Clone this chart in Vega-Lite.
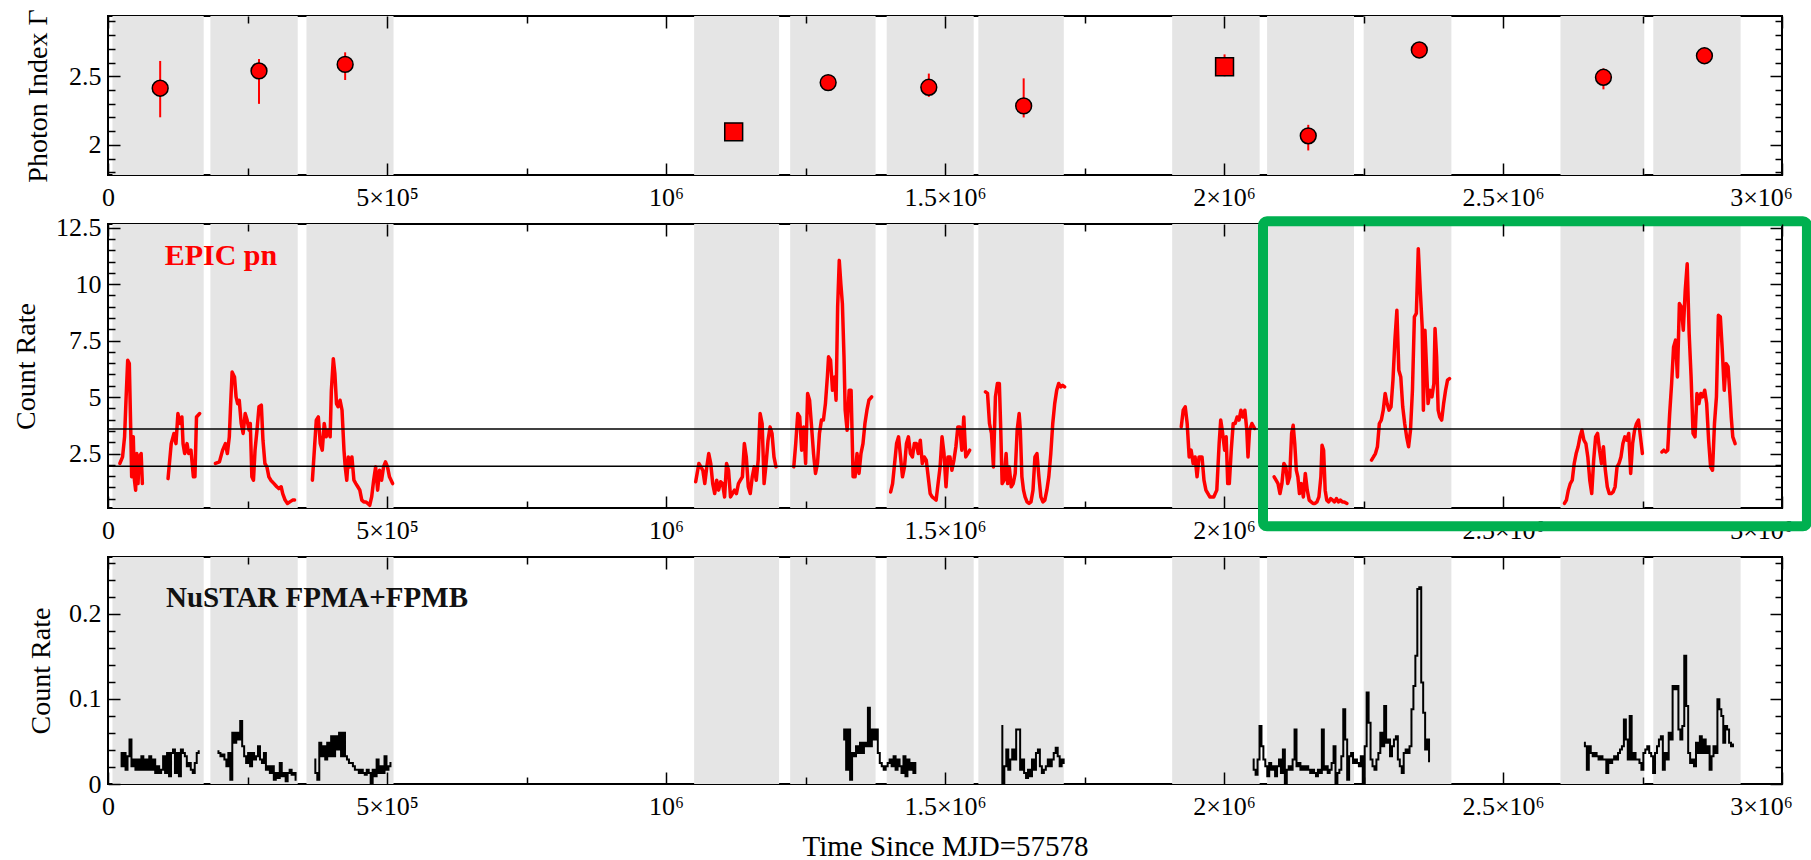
{
  "$schema": "https://vega.github.io/schema/vega-lite/v6.json",
  "background": "white",
  "padding": {"left": 10, "top": 7, "right": 0, "bottom": 0},
  "bounds": "flush",
  "spacing": 49,
  "config": {
    "view": {"stroke": "black", "strokeWidth": 2},
    "axis": {
      "grid": false, "domain": false,
      "labelFont": "Liberation Serif", "labelFontSize": 26, "labelColor": "black",
      "titleFont": "Liberation Serif", "titleFontSize": 28, "titleFontWeight": "normal", "titleColor": "black",
      "tickColor": "black", "tickWidth": 1.5,
      "labelFlush": false, "labelOverlap": false, "labelBound": false
    },
    "text": {"font": "Liberation Serif"}
  },
  "datasets": {
    "bands": [
      {"t0": 8, "t1": 171.5}, {"t0": 183.5, "t1": 340}, {"t0": 355.7, "t1": 511.7},
      {"t0": 1050.4, "t1": 1202.7}, {"t0": 1222.5, "t1": 1375.6}, {"t0": 1395.5, "t1": 1551.4},
      {"t0": 1559.8, "t1": 1712.9}, {"t0": 1907.1, "t1": 2063.9}, {"t0": 2077.2, "t1": 2233},
      {"t0": 2250.3, "t1": 2407.5}, {"t0": 2603, "t1": 2753.2}, {"t0": 2769.3, "t1": 2925.8}
    ],
    "gamma": [
      {"t": 93.5, "g": 2.413, "lo": 2.201, "hi": 2.612, "fit": "joint"},
      {"t": 270.6, "g": 2.539, "lo": 2.299, "hi": 2.626, "fit": "joint"},
      {"t": 425, "g": 2.587, "lo": 2.473, "hi": 2.675, "fit": "joint"},
      {"t": 1121.3, "g": 2.095, "lo": 2.08, "hi": 2.11, "fit": "pn"},
      {"t": 1290.6, "g": 2.454, "lo": 2.43, "hi": 2.48, "fit": "joint"},
      {"t": 1471, "g": 2.42, "lo": 2.35, "hi": 2.52, "fit": "joint"},
      {"t": 1641, "g": 2.284, "lo": 2.2, "hi": 2.485, "fit": "joint"},
      {"t": 2001, "g": 2.57, "lo": 2.5, "hi": 2.66, "fit": "pn"},
      {"t": 2151, "g": 2.066, "lo": 1.959, "hi": 2.146, "fit": "joint"},
      {"t": 2350, "g": 2.692, "lo": 2.67, "hi": 2.715, "fit": "joint"},
      {"t": 2680, "g": 2.493, "lo": 2.405, "hi": 2.558, "fit": "joint"},
      {"t": 2861, "g": 2.65, "lo": 2.63, "hi": 2.67, "fit": "joint"}
    ],
    "levels": [{"level": 3.59}, {"level": 1.94}],
    "box": [{"t0": 2069.9, "t1": 3044.7, "r0": -0.72, "r1": 12.78}],
    "pn": [
      {"seg":"A","t":21.2,"rate":2.06},{"seg":"A","t":26.1,"rate":2.35},{"seg":"A","t":29.7,"rate":3.24},{"seg":"A","t":32.5,"rate":5.01},{"seg":"A","t":35.3,"rate":6.63},{"seg":"A","t":38.2,"rate":6.48},{"seg":"A","t":41.0,"rate":3.24},{"seg":"A","t":42.4,"rate":1.47},{"seg":"A","t":45.3,"rate":3.24},{"seg":"A","t":47.4,"rate":1.32},{"seg":"A","t":49.5,"rate":0.88},{"seg":"A","t":51.6,"rate":2.5},{"seg":"A","t":53.8,"rate":1.17},{"seg":"A","t":55.9,"rate":2.35},{"seg":"A","t":59.4,"rate":2.5},{"seg":"A","t":61.6,"rate":1.17},
      {"seg":"B","t":107.6,"rate":1.39},{"seg":"B","t":113.3,"rate":2.94},{"seg":"B","t":118.2,"rate":3.39},{"seg":"B","t":121.8,"rate":2.94},{"seg":"B","t":125.3,"rate":4.27},{"seg":"B","t":128.9,"rate":3.83},{"seg":"B","t":132.4,"rate":4.12},{"seg":"B","t":134.5,"rate":2.94},{"seg":"B","t":137.4,"rate":2.5},{"seg":"B","t":141.6,"rate":2.94},{"seg":"B","t":144.5,"rate":2.5},{"seg":"B","t":148.7,"rate":2.65},{"seg":"B","t":153,"rate":1.47},{"seg":"B","t":155.8,"rate":1.47},{"seg":"B","t":158.6,"rate":4.12},{"seg":"B","t":164.3,"rate":4.27},
      {"seg":"C","t":192.6,"rate":2.06},{"seg":"C","t":199.7,"rate":2.13},{"seg":"C","t":205.4,"rate":2.65},{"seg":"C","t":210.4,"rate":2.94},{"seg":"C","t":213.9,"rate":2.5},{"seg":"C","t":217.4,"rate":3.24},{"seg":"C","t":219.6,"rate":4.57},{"seg":"C","t":222.4,"rate":6.11},{"seg":"C","t":226.7,"rate":5.89},{"seg":"C","t":229.5,"rate":5.01},{"seg":"C","t":232.3,"rate":4.71},{"seg":"C","t":235.2,"rate":4.86},{"seg":"C","t":238.7,"rate":3.83},{"seg":"C","t":242.2,"rate":3.39},{"seg":"C","t":245.8,"rate":4.27},{"seg":"C","t":249.3,"rate":3.98},{"seg":"C","t":252.9,"rate":3.53},{"seg":"C","t":255,"rate":3.83},{"seg":"C","t":257.8,"rate":1.47},{"seg":"C","t":260.7,"rate":1.32},{"seg":"C","t":263.5,"rate":2.65},{"seg":"C","t":267,"rate":3.53},{"seg":"C","t":270.6,"rate":4.57},{"seg":"C","t":274.8,"rate":4.64},{"seg":"C","t":277.7,"rate":3.09},{"seg":"C","t":281.2,"rate":2.06},{"seg":"C","t":284.8,"rate":1.91},{"seg":"C","t":288.3,"rate":1.47},{"seg":"C","t":291.8,"rate":1.32},{"seg":"C","t":297.5,"rate":1.17},{"seg":"C","t":302.5,"rate":1.03},{"seg":"C","t":306,"rate":0.95},{"seg":"C","t":310.3,"rate":1.03},{"seg":"C","t":313.1,"rate":0.73},{"seg":"C","t":317.4,"rate":0.44},{"seg":"C","t":321.6,"rate":0.29},{"seg":"C","t":325.9,"rate":0.36},{"seg":"C","t":330.8,"rate":0.44},{"seg":"C","t":334.4,"rate":0.44},
      {"seg":"D","t":366.3,"rate":1.32},{"seg":"D","t":369.8,"rate":2.65},{"seg":"D","t":373.3,"rate":3.98},{"seg":"D","t":376.9,"rate":4.12},{"seg":"D","t":380.4,"rate":2.94},{"seg":"D","t":384,"rate":2.65},{"seg":"D","t":387.5,"rate":3.83},{"seg":"D","t":391.1,"rate":3.24},{"seg":"D","t":394.6,"rate":3.53},{"seg":"D","t":398.1,"rate":3.24},{"seg":"D","t":400.3,"rate":5.3},{"seg":"D","t":403.8,"rate":6.7},{"seg":"D","t":406.6,"rate":6.04},{"seg":"D","t":409.5,"rate":4.71},{"seg":"D","t":412.3,"rate":4.57},{"seg":"D","t":415.9,"rate":4.86},{"seg":"D","t":419.4,"rate":4.42},{"seg":"D","t":422.9,"rate":2.65},{"seg":"D","t":425.1,"rate":1.91},{"seg":"D","t":427.9,"rate":1.32},{"seg":"D","t":430.7,"rate":2.35},{"seg":"D","t":433.6,"rate":1.91},{"seg":"D","t":437.1,"rate":2.35},{"seg":"D","t":440.7,"rate":1.32},{"seg":"D","t":444.2,"rate":1.17},{"seg":"D","t":447.7,"rate":1.03},{"seg":"D","t":451.3,"rate":0.88},{"seg":"D","t":454.8,"rate":0.44},{"seg":"D","t":458.4,"rate":0.36},{"seg":"D","t":461.9,"rate":0.36},{"seg":"D","t":465.5,"rate":0.29},{"seg":"D","t":469,"rate":0.21},{"seg":"D","t":472.5,"rate":0.58},{"seg":"D","t":476.1,"rate":1.32},{"seg":"D","t":479.6,"rate":1.91},{"seg":"D","t":483.2,"rate":0.88},{"seg":"D","t":486.7,"rate":1.76},{"seg":"D","t":490.3,"rate":1.32},{"seg":"D","t":493.8,"rate":1.91},{"seg":"D","t":497.3,"rate":2.13},{"seg":"D","t":500.9,"rate":1.91},{"seg":"D","t":504.4,"rate":1.47},{"seg":"D","t":510.1,"rate":1.17},
      {"seg":"E","t":1053.2,"rate":1.25},{"seg":"E","t":1058.9,"rate":2.06},{"seg":"E","t":1062.5,"rate":1.91},{"seg":"E","t":1066,"rate":1.76},{"seg":"E","t":1069.5,"rate":1.17},{"seg":"E","t":1073.1,"rate":1.91},{"seg":"E","t":1076.6,"rate":2.5},{"seg":"E","t":1080.2,"rate":2.06},{"seg":"E","t":1083.7,"rate":1.17},{"seg":"E","t":1087.3,"rate":0.73},{"seg":"E","t":1090.8,"rate":1.32},{"seg":"E","t":1094.3,"rate":0.88},{"seg":"E","t":1097.9,"rate":1.25},{"seg":"E","t":1101.4,"rate":1.17},{"seg":"E","t":1105,"rate":0.58},{"seg":"E","t":1108.5,"rate":2.06},{"seg":"E","t":1112.1,"rate":1.76},{"seg":"E","t":1115.6,"rate":0.58},{"seg":"E","t":1119.1,"rate":0.73},{"seg":"E","t":1122.7,"rate":0.88},{"seg":"E","t":1126.2,"rate":0.73},{"seg":"E","t":1129.8,"rate":1.17},{"seg":"E","t":1133.3,"rate":1.32},{"seg":"E","t":1136.9,"rate":1.47},{"seg":"E","t":1140.4,"rate":2.94},{"seg":"E","t":1143.9,"rate":2.35},{"seg":"E","t":1147.5,"rate":1.03},{"seg":"E","t":1151,"rate":0.73},{"seg":"E","t":1154.6,"rate":1.47},{"seg":"E","t":1158.1,"rate":1.91},{"seg":"E","t":1161.7,"rate":1.32},{"seg":"E","t":1165.2,"rate":2.21},{"seg":"E","t":1168.7,"rate":4.27},{"seg":"E","t":1172.3,"rate":3.83},{"seg":"E","t":1175.8,"rate":1.17},{"seg":"E","t":1179.4,"rate":2.06},{"seg":"E","t":1182.9,"rate":3.09},{"seg":"E","t":1186.5,"rate":3.68},{"seg":"E","t":1190,"rate":3.39},{"seg":"E","t":1193.5,"rate":2.35},{"seg":"E","t":1197.1,"rate":1.91},
      {"seg":"F","t":1229,"rate":1.91},{"seg":"F","t":1232.5,"rate":2.94},{"seg":"F","t":1236.1,"rate":4.27},{"seg":"F","t":1239.6,"rate":4.12},{"seg":"F","t":1243.1,"rate":2.65},{"seg":"F","t":1246.7,"rate":3.68},{"seg":"F","t":1250.2,"rate":2.06},{"seg":"F","t":1253.8,"rate":5.16},{"seg":"F","t":1257.3,"rate":4.86},{"seg":"F","t":1260.9,"rate":3.68},{"seg":"F","t":1264.4,"rate":2.5},{"seg":"F","t":1267.9,"rate":1.62},{"seg":"F","t":1271.5,"rate":2.06},{"seg":"F","t":1275,"rate":3.39},{"seg":"F","t":1278.6,"rate":3.98},{"seg":"F","t":1282.1,"rate":3.98},{"seg":"F","t":1285.7,"rate":4.71},{"seg":"F","t":1289.2,"rate":5.89},{"seg":"F","t":1291.3,"rate":6.78},{"seg":"F","t":1294.9,"rate":6.63},{"seg":"F","t":1298.4,"rate":5.3},{"seg":"F","t":1302,"rate":5.89},{"seg":"F","t":1304.8,"rate":4.86},{"seg":"F","t":1307.6,"rate":8.99},{"seg":"F","t":1310.5,"rate":11.05},{"seg":"F","t":1313.3,"rate":10.02},{"seg":"F","t":1316.1,"rate":9.14},{"seg":"F","t":1319,"rate":6.78},{"seg":"F","t":1321.1,"rate":4.42},{"seg":"F","t":1324.6,"rate":3.53},{"seg":"F","t":1328.2,"rate":5.3},{"seg":"F","t":1331.7,"rate":5.3},{"seg":"F","t":1335.3,"rate":1.47},{"seg":"F","t":1338.8,"rate":1.47},{"seg":"F","t":1342.3,"rate":2.5},{"seg":"F","t":1345.9,"rate":1.62},{"seg":"F","t":1349.4,"rate":2.5},{"seg":"F","t":1353,"rate":2.94},{"seg":"F","t":1356.5,"rate":3.83},{"seg":"F","t":1360.1,"rate":4.42},{"seg":"F","t":1363.6,"rate":4.86},{"seg":"F","t":1368.6,"rate":5.01},
      {"seg":"G","t":1402.6,"rate":0.8},{"seg":"G","t":1406.1,"rate":1.17},{"seg":"G","t":1409.7,"rate":2.06},{"seg":"G","t":1413.2,"rate":2.94},{"seg":"G","t":1416.8,"rate":3.24},{"seg":"G","t":1420.3,"rate":2.35},{"seg":"G","t":1423.8,"rate":1.47},{"seg":"G","t":1427.4,"rate":1.91},{"seg":"G","t":1430.9,"rate":2.94},{"seg":"G","t":1434.5,"rate":3.24},{"seg":"G","t":1438,"rate":2.5},{"seg":"G","t":1441.6,"rate":2.35},{"seg":"G","t":1445.1,"rate":2.94},{"seg":"G","t":1448.6,"rate":2.94},{"seg":"G","t":1452.2,"rate":2.5},{"seg":"G","t":1455.7,"rate":3.09},{"seg":"G","t":1459.3,"rate":2.06},{"seg":"G","t":1462.8,"rate":2.35},{"seg":"G","t":1466.4,"rate":2.21},{"seg":"G","t":1469.9,"rate":1.47},{"seg":"G","t":1473.4,"rate":0.73},{"seg":"G","t":1477,"rate":0.58},{"seg":"G","t":1480.5,"rate":0.51},{"seg":"G","t":1484.1,"rate":0.44},{"seg":"G","t":1487.6,"rate":1.17},{"seg":"G","t":1491.2,"rate":1.91},{"seg":"G","t":1494.7,"rate":3.24},{"seg":"G","t":1498.2,"rate":2.5},{"seg":"G","t":1501.8,"rate":1.03},{"seg":"G","t":1505.3,"rate":2.35},{"seg":"G","t":1508.9,"rate":2.35},{"seg":"G","t":1512.4,"rate":1.76},{"seg":"G","t":1516,"rate":2.21},{"seg":"G","t":1519.5,"rate":2.8},{"seg":"G","t":1523,"rate":3.68},{"seg":"G","t":1526.6,"rate":3.68},{"seg":"G","t":1530.1,"rate":2.65},{"seg":"G","t":1533.7,"rate":4.12},{"seg":"G","t":1537.2,"rate":2.35},{"seg":"G","t":1540.8,"rate":2.5},{"seg":"G","t":1544.3,"rate":2.65},
      {"seg":"H","t":1572.6,"rate":5.23},{"seg":"H","t":1576.2,"rate":5.16},{"seg":"H","t":1579.7,"rate":3.83},{"seg":"H","t":1583.3,"rate":3.39},{"seg":"H","t":1586.8,"rate":1.91},{"seg":"H","t":1590.4,"rate":5.01},{"seg":"H","t":1593.9,"rate":5.6},{"seg":"H","t":1597.4,"rate":5.6},{"seg":"H","t":1599.6,"rate":3.83},{"seg":"H","t":1602.4,"rate":1.17},{"seg":"H","t":1605.9,"rate":1.32},{"seg":"H","t":1609.5,"rate":2.5},{"seg":"H","t":1612.3,"rate":1.17},{"seg":"H","t":1615.2,"rate":1.91},{"seg":"H","t":1618.7,"rate":1.03},{"seg":"H","t":1622.2,"rate":1.17},{"seg":"H","t":1625.8,"rate":1.62},{"seg":"H","t":1629.3,"rate":3.53},{"seg":"H","t":1632.9,"rate":4.27},{"seg":"H","t":1635,"rate":3.53},{"seg":"H","t":1637.8,"rate":1.47},{"seg":"H","t":1640.7,"rate":0.88},{"seg":"H","t":1643.5,"rate":0.58},{"seg":"H","t":1647,"rate":0.36},{"seg":"H","t":1650.6,"rate":0.29},{"seg":"H","t":1654.1,"rate":0.36},{"seg":"H","t":1657.7,"rate":0.88},{"seg":"H","t":1661.2,"rate":2.35},{"seg":"H","t":1664.8,"rate":2.5},{"seg":"H","t":1668.3,"rate":1.47},{"seg":"H","t":1671.8,"rate":0.58},{"seg":"H","t":1675.4,"rate":0.36},{"seg":"H","t":1678.9,"rate":0.44},{"seg":"H","t":1682.5,"rate":0.88},{"seg":"H","t":1686,"rate":1.47},{"seg":"H","t":1689.6,"rate":2.5},{"seg":"H","t":1693.1,"rate":3.83},{"seg":"H","t":1696.6,"rate":4.71},{"seg":"H","t":1700.2,"rate":5.3},{"seg":"H","t":1703.7,"rate":5.6},{"seg":"H","t":1707.3,"rate":5.45},{"seg":"H","t":1710.8,"rate":5.52},{"seg":"H","t":1714.4,"rate":5.45},
      {"seg":"I","t":1923.4,"rate":3.68},{"seg":"I","t":1926.9,"rate":4.42},{"seg":"I","t":1930.5,"rate":4.57},{"seg":"I","t":1934,"rate":3.83},{"seg":"I","t":1937.6,"rate":2.35},{"seg":"I","t":1941.1,"rate":2.65},{"seg":"I","t":1944.7,"rate":2.06},{"seg":"I","t":1948.2,"rate":2.35},{"seg":"I","t":1951.7,"rate":1.47},{"seg":"I","t":1955.3,"rate":2.35},{"seg":"I","t":1960.6,"rate":2.35},{"seg":"I","t":1964.1,"rate":1.32},{"seg":"I","t":1967.6,"rate":0.88},{"seg":"I","t":1974.6,"rate":0.58},{"seg":"I","t":1981.6,"rate":0.58},{"seg":"I","t":1987.1,"rate":0.88},{"seg":"I","t":1991.3,"rate":2.94},{"seg":"I","t":1994.1,"rate":3.98},{"seg":"I","t":1996.9,"rate":3.53},{"seg":"I","t":2001.1,"rate":2.65},{"seg":"I","t":2003.9,"rate":3.24},{"seg":"I","t":2006.7,"rate":1.17},{"seg":"I","t":2009.5,"rate":1.17},{"seg":"I","t":2013,"rate":2.65},{"seg":"I","t":2016.5,"rate":3.83},{"seg":"I","t":2020,"rate":3.83},{"seg":"I","t":2023.5,"rate":4.12},{"seg":"I","t":2026.9,"rate":3.98},{"seg":"I","t":2030.4,"rate":4.42},{"seg":"I","t":2033.9,"rate":4.12},{"seg":"I","t":2037.4,"rate":4.42},{"seg":"I","t":2040.9,"rate":3.53},{"seg":"I","t":2043,"rate":2.35},{"seg":"I","t":2045.8,"rate":3.53},{"seg":"I","t":2050,"rate":3.83},{"seg":"I","t":2054.9,"rate":3.61},
      {"seg":"J","t":2089.8,"rate":1.47},{"seg":"J","t":2093.3,"rate":1.32},{"seg":"J","t":2096.8,"rate":1.17},{"seg":"J","t":2100.3,"rate":0.73},{"seg":"J","t":2103.8,"rate":1.17},{"seg":"J","t":2107.3,"rate":2.06},{"seg":"J","t":2110.8,"rate":1.91},{"seg":"J","t":2114.2,"rate":1.17},{"seg":"J","t":2117.7,"rate":1.47},{"seg":"J","t":2121.2,"rate":3.39},{"seg":"J","t":2124,"rate":3.75},{"seg":"J","t":2126.8,"rate":2.94},{"seg":"J","t":2129.6,"rate":1.76},{"seg":"J","t":2132.4,"rate":1.47},{"seg":"J","t":2135.2,"rate":0.73},{"seg":"J","t":2138.7,"rate":1.17},{"seg":"J","t":2142.2,"rate":0.58},{"seg":"J","t":2145.7,"rate":1.62},{"seg":"J","t":2149.2,"rate":0.88},{"seg":"J","t":2152.7,"rate":0.44},{"seg":"J","t":2156.2,"rate":0.36},{"seg":"J","t":2159.6,"rate":0.29},{"seg":"J","t":2163.1,"rate":0.29},{"seg":"J","t":2166.6,"rate":0.36},{"seg":"J","t":2170.1,"rate":0.58},{"seg":"J","t":2173.6,"rate":1.47},{"seg":"J","t":2175.7,"rate":2.87},{"seg":"J","t":2178.5,"rate":2.65},{"seg":"J","t":2181.3,"rate":0.88},{"seg":"J","t":2184.1,"rate":0.44},{"seg":"J","t":2187.6,"rate":0.36},{"seg":"J","t":2191.1,"rate":0.51},{"seg":"J","t":2194.6,"rate":0.44},{"seg":"J","t":2198.1,"rate":0.36},{"seg":"J","t":2201.5,"rate":0.51},{"seg":"J","t":2205,"rate":0.36},{"seg":"J","t":2208.5,"rate":0.44},{"seg":"J","t":2212,"rate":0.36},{"seg":"J","t":2215.5,"rate":0.36},{"seg":"J","t":2220.4,"rate":0.29},
      {"seg":"K","t":2264.4,"rate":2.21},{"seg":"K","t":2267.9,"rate":2.35},{"seg":"K","t":2271.4,"rate":2.5},{"seg":"K","t":2274.9,"rate":2.8},{"seg":"K","t":2278.4,"rate":3.83},{"seg":"K","t":2281.9,"rate":3.98},{"seg":"K","t":2285.4,"rate":4.42},{"seg":"K","t":2288.8,"rate":5.16},{"seg":"K","t":2292.3,"rate":4.71},{"seg":"K","t":2295.8,"rate":4.42},{"seg":"K","t":2299.3,"rate":4.57},{"seg":"K","t":2302.8,"rate":5.75},{"seg":"K","t":2306.3,"rate":7.52},{"seg":"K","t":2309.8,"rate":8.84},{"seg":"K","t":2313.3,"rate":6.19},{"seg":"K","t":2316.8,"rate":5.89},{"seg":"K","t":2320.3,"rate":4.57},{"seg":"K","t":2323.8,"rate":3.83},{"seg":"K","t":2327.3,"rate":3.24},{"seg":"K","t":2330.8,"rate":2.8},{"seg":"K","t":2334.2,"rate":3.53},{"seg":"K","t":2337.7,"rate":5.3},{"seg":"K","t":2341.2,"rate":8.55},{"seg":"K","t":2344.7,"rate":8.7},{"seg":"K","t":2348.2,"rate":11.57},{"seg":"K","t":2351.7,"rate":9.73},{"seg":"K","t":2355.2,"rate":8.1},{"seg":"K","t":2357.3,"rate":4.42},{"seg":"K","t":2360.1,"rate":7.96},{"seg":"K","t":2362.9,"rate":6.34},{"seg":"K","t":2365.7,"rate":4.71},{"seg":"K","t":2369.2,"rate":5.3},{"seg":"K","t":2372.7,"rate":5.01},{"seg":"K","t":2376.1,"rate":5.6},{"seg":"K","t":2378.2,"rate":8.03},{"seg":"K","t":2381,"rate":6.78},{"seg":"K","t":2383.8,"rate":4.42},{"seg":"K","t":2386.6,"rate":4.12},{"seg":"K","t":2390.1,"rate":3.98},{"seg":"K","t":2393.6,"rate":4.71},{"seg":"K","t":2397.1,"rate":5.3},{"seg":"K","t":2400.6,"rate":5.75},{"seg":"K","t":2404.1,"rate":5.82},
      {"seg":"L","t":2610.1,"rate":0.29},{"seg":"L","t":2613.6,"rate":0.44},{"seg":"L","t":2617.1,"rate":0.88},{"seg":"L","t":2620.6,"rate":1.17},{"seg":"L","t":2624.1,"rate":1.32},{"seg":"L","t":2627.6,"rate":2.06},{"seg":"L","t":2631.1,"rate":2.5},{"seg":"L","t":2634.6,"rate":2.8},{"seg":"L","t":2638,"rate":3.24},{"seg":"L","t":2641.5,"rate":3.53},{"seg":"L","t":2645,"rate":3.09},{"seg":"L","t":2648.5,"rate":2.94},{"seg":"L","t":2652,"rate":2.35},{"seg":"L","t":2655.5,"rate":1.32},{"seg":"L","t":2659,"rate":0.73},{"seg":"L","t":2662.5,"rate":2.21},{"seg":"L","t":2666,"rate":3.24},{"seg":"L","t":2669.5,"rate":3.39},{"seg":"L","t":2673,"rate":2.65},{"seg":"L","t":2676.5,"rate":2.06},{"seg":"L","t":2680,"rate":2.8},{"seg":"L","t":2683.4,"rate":1.76},{"seg":"L","t":2686.9,"rate":1.03},{"seg":"L","t":2690.4,"rate":0.73},{"seg":"L","t":2693.9,"rate":0.73},{"seg":"L","t":2697.4,"rate":0.8},{"seg":"L","t":2700.9,"rate":1.03},{"seg":"L","t":2704.4,"rate":1.91},{"seg":"L","t":2707.9,"rate":2.06},{"seg":"L","t":2711.4,"rate":2.35},{"seg":"L","t":2714.9,"rate":2.94},{"seg":"L","t":2718.4,"rate":3.24},{"seg":"L","t":2721.9,"rate":3.09},{"seg":"L","t":2725.3,"rate":3.39},{"seg":"L","t":2728.8,"rate":1.62},{"seg":"L","t":2732.3,"rate":2.94},{"seg":"L","t":2735.8,"rate":3.53},{"seg":"L","t":2739.3,"rate":3.83},{"seg":"L","t":2742.8,"rate":3.98},{"seg":"L","t":2746.3,"rate":3.24},{"seg":"L","t":2749.8,"rate":2.5},
      {"seg":"M","t":2784.7,"rate":2.57},{"seg":"M","t":2788.2,"rate":2.65},{"seg":"M","t":2791.7,"rate":2.57},{"seg":"M","t":2795.2,"rate":2.65},{"seg":"M","t":2798.7,"rate":4.27},{"seg":"M","t":2802.2,"rate":5.6},{"seg":"M","t":2805.7,"rate":7.22},{"seg":"M","t":2809.2,"rate":7.52},{"seg":"M","t":2812.6,"rate":5.89},{"seg":"M","t":2816.1,"rate":9.14},{"seg":"M","t":2819.6,"rate":8.99},{"seg":"M","t":2823.1,"rate":7.96},{"seg":"M","t":2826.6,"rate":9.73},{"seg":"M","t":2830.1,"rate":10.9},{"seg":"M","t":2833.6,"rate":7.81},{"seg":"M","t":2837.1,"rate":5.89},{"seg":"M","t":2840.6,"rate":3.39},{"seg":"M","t":2844.1,"rate":3.24},{"seg":"M","t":2847.6,"rate":5.16},{"seg":"M","t":2851.1,"rate":4.71},{"seg":"M","t":2854.5,"rate":5.16},{"seg":"M","t":2858,"rate":5.01},{"seg":"M","t":2861.5,"rate":5.3},{"seg":"M","t":2865,"rate":4.71},{"seg":"M","t":2868.5,"rate":3.09},{"seg":"M","t":2872,"rate":1.91},{"seg":"M","t":2875.5,"rate":1.76},{"seg":"M","t":2879,"rate":3.83},{"seg":"M","t":2882.5,"rate":5.01},{"seg":"M","t":2886,"rate":8.62},{"seg":"M","t":2889.5,"rate":8.55},{"seg":"M","t":2893,"rate":7.07},{"seg":"M","t":2896.5,"rate":5.3},{"seg":"M","t":2899.9,"rate":6.48},{"seg":"M","t":2903.4,"rate":6.34},{"seg":"M","t":2906.9,"rate":5.01},{"seg":"M","t":2909,"rate":4.12},{"seg":"M","t":2911.8,"rate":3.24},{"seg":"M","t":2916,"rate":2.94}
    ],
    "nu": [
      {"seg":"N1","t":22.6,"rate":0.0366},{"seg":"N1","t":26.1,"rate":0.0209},{"seg":"N1","t":29.7,"rate":0.0366},{"seg":"N1","t":33.2,"rate":0.0169},{"seg":"N1","t":36.8,"rate":0.0327},{"seg":"N1","t":40.3,"rate":0.0524},{"seg":"N1","t":43.8,"rate":0.0209},{"seg":"N1","t":47.4,"rate":0.0287},{"seg":"N1","t":50.9,"rate":0.0169},{"seg":"N1","t":54.5,"rate":0.0287},{"seg":"N1","t":58,"rate":0.0169},{"seg":"N1","t":61.6,"rate":0.0327},{"seg":"N1","t":65.1,"rate":0.0169},{"seg":"N1","t":68.6,"rate":0.0287},{"seg":"N1","t":72.2,"rate":0.0169},{"seg":"N1","t":75.7,"rate":0.0327},{"seg":"N1","t":79.3,"rate":0.0169},{"seg":"N1","t":82.8,"rate":0.0287},{"seg":"N1","t":86.4,"rate":0.013},{"seg":"N1","t":89.9,"rate":0.0209},{"seg":"N1","t":93.4,"rate":0.013},{"seg":"N1","t":97,"rate":0.0169},{"seg":"N1","t":100.5,"rate":0.0327},{"seg":"N1","t":104.1,"rate":0.013},{"seg":"N1","t":107.6,"rate":0.0366},{"seg":"N1","t":111.2,"rate":0.0091},{"seg":"N1","t":114.7,"rate":0.0366},{"seg":"N1","t":118.2,"rate":0.0406},{"seg":"N1","t":121.8,"rate":0.013},{"seg":"N1","t":125.3,"rate":0.0366},{"seg":"N1","t":128.9,"rate":0.0091},{"seg":"N1","t":132.4,"rate":0.0406},{"seg":"N1","t":136,"rate":0.0366},{"seg":"N1","t":139.5,"rate":0.0327},{"seg":"N1","t":143,"rate":0.0209},{"seg":"N1","t":146.6,"rate":0.0248},{"seg":"N1","t":150.1,"rate":0.0169},{"seg":"N1","t":153.7,"rate":0.013},{"seg":"N1","t":157.2,"rate":0.0248},{"seg":"N1","t":160.8,"rate":0.0366},{"seg":"N1","t":164.3,"rate":0.0386},
      {"seg":"N2","t":196.2,"rate":0.0386},{"seg":"N2","t":199.7,"rate":0.0366},{"seg":"N2","t":203.3,"rate":0.0327},{"seg":"N2","t":206.8,"rate":0.0346},{"seg":"N2","t":210.4,"rate":0.0287},{"seg":"N2","t":213.9,"rate":0.0209},{"seg":"N2","t":217.4,"rate":0.0366},{"seg":"N2","t":221,"rate":0.0051},{"seg":"N2","t":224.5,"rate":0.0602},{"seg":"N2","t":228.1,"rate":0.0484},{"seg":"N2","t":231.6,"rate":0.0602},{"seg":"N2","t":235.2,"rate":0.0524},{"seg":"N2","t":238.7,"rate":0.074},{"seg":"N2","t":242.2,"rate":0.0445},{"seg":"N2","t":245.8,"rate":0.0327},{"seg":"N2","t":249.3,"rate":0.0248},{"seg":"N2","t":252.9,"rate":0.0366},{"seg":"N2","t":256.4,"rate":0.0209},{"seg":"N2","t":260,"rate":0.0366},{"seg":"N2","t":263.5,"rate":0.0287},{"seg":"N2","t":267,"rate":0.0327},{"seg":"N2","t":270.6,"rate":0.0445},{"seg":"N2","t":274.1,"rate":0.0287},{"seg":"N2","t":277.7,"rate":0.0248},{"seg":"N2","t":281.2,"rate":0.0366},{"seg":"N2","t":284.8,"rate":0.0169},{"seg":"N2","t":288.3,"rate":0.0209},{"seg":"N2","t":291.8,"rate":0.013},{"seg":"N2","t":295.4,"rate":0.0209},{"seg":"N2","t":298.9,"rate":0.0051},{"seg":"N2","t":302.5,"rate":0.013},{"seg":"N2","t":306,"rate":0.0071},{"seg":"N2","t":309.6,"rate":0.0248},{"seg":"N2","t":313.1,"rate":0.0091},{"seg":"N2","t":316.6,"rate":0.013},{"seg":"N2","t":320.2,"rate":0.0031},{"seg":"N2","t":323.7,"rate":0.013},{"seg":"N2","t":327.3,"rate":0.0169},{"seg":"N2","t":330.8,"rate":0.011},{"seg":"N2","t":334.4,"rate":0.013},{"seg":"N2","t":337.9,"rate":0.0051},
      {"seg":"N3","t":369.8,"rate":0.0287},{"seg":"N3","t":373.3,"rate":0.013},{"seg":"N3","t":376.9,"rate":0.0051},{"seg":"N3","t":380.4,"rate":0.0484},{"seg":"N3","t":384,"rate":0.0327},{"seg":"N3","t":387.5,"rate":0.0445},{"seg":"N3","t":391.1,"rate":0.0287},{"seg":"N3","t":394.6,"rate":0.0484},{"seg":"N3","t":398.1,"rate":0.0327},{"seg":"N3","t":401.7,"rate":0.0563},{"seg":"N3","t":405.2,"rate":0.0327},{"seg":"N3","t":408.8,"rate":0.0563},{"seg":"N3","t":412.3,"rate":0.0406},{"seg":"N3","t":415.9,"rate":0.0602},{"seg":"N3","t":419.4,"rate":0.0327},{"seg":"N3","t":422.9,"rate":0.0602},{"seg":"N3","t":426.5,"rate":0.0327},{"seg":"N3","t":430,"rate":0.0287},{"seg":"N3","t":433.6,"rate":0.0248},{"seg":"N3","t":437.1,"rate":0.0248},{"seg":"N3","t":440.7,"rate":0.0209},{"seg":"N3","t":444.2,"rate":0.0169},{"seg":"N3","t":447.7,"rate":0.0169},{"seg":"N3","t":451.3,"rate":0.013},{"seg":"N3","t":454.8,"rate":0.0169},{"seg":"N3","t":458.4,"rate":0.013},{"seg":"N3","t":461.9,"rate":0.011},{"seg":"N3","t":465.5,"rate":0.0169},{"seg":"N3","t":469,"rate":0.013},{"seg":"N3","t":472.5,"rate":0.0012},{"seg":"N3","t":476.1,"rate":0.0169},{"seg":"N3","t":479.6,"rate":0.0091},{"seg":"N3","t":483.2,"rate":0.0287},{"seg":"N3","t":486.7,"rate":0.013},{"seg":"N3","t":490.3,"rate":0.0209},{"seg":"N3","t":493.8,"rate":0.013},{"seg":"N3","t":497.3,"rate":0.0327},{"seg":"N3","t":500.9,"rate":0.0169},{"seg":"N3","t":504.4,"rate":0.0209},{"seg":"N3","t":508,"rate":0.0248},
      {"seg":"N4","t":1317.5,"rate":0.0524},{"seg":"N4","t":1321.1,"rate":0.0642},{"seg":"N4","t":1324.6,"rate":0.0169},{"seg":"N4","t":1328.2,"rate":0.0642},{"seg":"N4","t":1331.7,"rate":0.0051},{"seg":"N4","t":1335.3,"rate":0.0366},{"seg":"N4","t":1338.8,"rate":0.0327},{"seg":"N4","t":1342.3,"rate":0.0445},{"seg":"N4","t":1345.9,"rate":0.0366},{"seg":"N4","t":1349.4,"rate":0.0484},{"seg":"N4","t":1353,"rate":0.0366},{"seg":"N4","t":1356.5,"rate":0.0484},{"seg":"N4","t":1360.1,"rate":0.0445},{"seg":"N4","t":1363.6,"rate":0.0898},{"seg":"N4","t":1367.1,"rate":0.0445},{"seg":"N4","t":1370.7,"rate":0.0642},{"seg":"N4","t":1374.2,"rate":0.0524},{"seg":"N4","t":1377.8,"rate":0.0642},{"seg":"N4","t":1381.3,"rate":0.0366},{"seg":"N4","t":1384.9,"rate":0.0248},{"seg":"N4","t":1388.4,"rate":0.0209},{"seg":"N4","t":1391.9,"rate":0.0169},{"seg":"N4","t":1395.5,"rate":0.0209},{"seg":"N4","t":1399,"rate":0.0248},{"seg":"N4","t":1402.6,"rate":0.0287},{"seg":"N4","t":1406.1,"rate":0.0209},{"seg":"N4","t":1409.7,"rate":0.0327},{"seg":"N4","t":1413.2,"rate":0.0169},{"seg":"N4","t":1416.8,"rate":0.0287},{"seg":"N4","t":1420.3,"rate":0.0209},{"seg":"N4","t":1423.8,"rate":0.013},{"seg":"N4","t":1427.4,"rate":0.0327},{"seg":"N4","t":1430.9,"rate":0.0091},{"seg":"N4","t":1434.5,"rate":0.0287},{"seg":"N4","t":1438,"rate":0.0169},{"seg":"N4","t":1441.6,"rate":0.0248},{"seg":"N4","t":1445.1,"rate":0.013},{"seg":"N4","t":1448.6,"rate":0.0248},
      {"seg":"N5","t":1601,"rate":0.0681},{"seg":"N5","t":1604.5,"rate":0.0012},{"seg":"N5","t":1608.1,"rate":0.0209},{"seg":"N5","t":1611.6,"rate":0.0406},{"seg":"N5","t":1615.2,"rate":0.0169},{"seg":"N5","t":1618.7,"rate":0.0287},{"seg":"N5","t":1622.2,"rate":0.0406},{"seg":"N5","t":1625.8,"rate":0.0287},{"seg":"N5","t":1629.3,"rate":0.0642},{"seg":"N5","t":1632.9,"rate":0.0642},{"seg":"N5","t":1636.4,"rate":0.0169},{"seg":"N5","t":1640,"rate":0.0287},{"seg":"N5","t":1643.5,"rate":0.013},{"seg":"N5","t":1647,"rate":0.0071},{"seg":"N5","t":1650.6,"rate":0.0169},{"seg":"N5","t":1654.1,"rate":0.0091},{"seg":"N5","t":1657.7,"rate":0.0287},{"seg":"N5","t":1661.2,"rate":0.0169},{"seg":"N5","t":1664.8,"rate":0.0366},{"seg":"N5","t":1668.3,"rate":0.0406},{"seg":"N5","t":1671.8,"rate":0.0209},{"seg":"N5","t":1675.4,"rate":0.013},{"seg":"N5","t":1678.9,"rate":0.0169},{"seg":"N5","t":1682.5,"rate":0.0209},{"seg":"N5","t":1686,"rate":0.0287},{"seg":"N5","t":1689.6,"rate":0.0209},{"seg":"N5","t":1693.1,"rate":0.0287},{"seg":"N5","t":1696.6,"rate":0.0366},{"seg":"N5","t":1700.2,"rate":0.0425},{"seg":"N5","t":1703.7,"rate":0.0327},{"seg":"N5","t":1707.3,"rate":0.0209},{"seg":"N5","t":1710.8,"rate":0.0287},{"seg":"N5","t":1714.4,"rate":0.0248},
      {"seg":"N6","t":2051.4,"rate":0.0287},{"seg":"N6","t":2054.9,"rate":0.0169},{"seg":"N6","t":2058.4,"rate":0.011},{"seg":"N6","t":2061.9,"rate":0.0287},{"seg":"N6","t":2065.4,"rate":0.0681},{"seg":"N6","t":2068.9,"rate":0.0445},{"seg":"N6","t":2072.3,"rate":0.0287},{"seg":"N6","t":2075.8,"rate":0.0209},{"seg":"N6","t":2079.3,"rate":0.0091},{"seg":"N6","t":2082.8,"rate":0.0248},{"seg":"N6","t":2086.3,"rate":0.0169},{"seg":"N6","t":2089.8,"rate":0.0209},{"seg":"N6","t":2093.3,"rate":0.0091},{"seg":"N6","t":2096.8,"rate":0.0209},{"seg":"N6","t":2100.3,"rate":0.0287},{"seg":"N6","t":2103.8,"rate":0.013},{"seg":"N6","t":2107.3,"rate":0.0406},{"seg":"N6","t":2110.8,"rate":0.0012},{"seg":"N6","t":2114.2,"rate":0.0169},{"seg":"N6","t":2117.7,"rate":0.0209},{"seg":"N6","t":2121.2,"rate":0.0169},{"seg":"N6","t":2124.7,"rate":0.0287},{"seg":"N6","t":2128.2,"rate":0.0642},{"seg":"N6","t":2131.7,"rate":0.0209},{"seg":"N6","t":2135.2,"rate":0.0248},{"seg":"N6","t":2138.7,"rate":0.0169},{"seg":"N6","t":2142.2,"rate":0.0209},{"seg":"N6","t":2145.7,"rate":0.0169},{"seg":"N6","t":2149.2,"rate":0.0209},{"seg":"N6","t":2152.7,"rate":0.0169},{"seg":"N6","t":2156.2,"rate":0.013},{"seg":"N6","t":2159.6,"rate":0.0169},{"seg":"N6","t":2163.1,"rate":0.013},{"seg":"N6","t":2166.6,"rate":0.0091},{"seg":"N6","t":2170.1,"rate":0.0169},{"seg":"N6","t":2173.6,"rate":0.013},{"seg":"N6","t":2177.1,"rate":0.0642},{"seg":"N6","t":2180.6,"rate":0.0169},{"seg":"N6","t":2184.1,"rate":0.0209},{"seg":"N6","t":2187.6,"rate":0.013},{"seg":"N6","t":2191.1,"rate":0.0169},{"seg":"N6","t":2194.6,"rate":0.0248},{"seg":"N6","t":2198.1,"rate":0.0445},{"seg":"N6","t":2201.5,"rate":0.0012},{"seg":"N6","t":2205,"rate":0.013},{"seg":"N6","t":2208.5,"rate":0.0169},{"seg":"N6","t":2212,"rate":0.0327},{"seg":"N6","t":2215.5,"rate":0.0878},{"seg":"N6","t":2219,"rate":0.0524},{"seg":"N6","t":2222.5,"rate":0.0051},{"seg":"N6","t":2226,"rate":0.0327},{"seg":"N6","t":2229.5,"rate":0.0366},{"seg":"N6","t":2233,"rate":0.0248},{"seg":"N6","t":2236.5,"rate":0.0287},{"seg":"N6","t":2240,"rate":0.0248},{"seg":"N6","t":2243.5,"rate":0.0209},{"seg":"N6","t":2246.9,"rate":0.0327},{"seg":"N6","t":2250.4,"rate":0.0012},{"seg":"N6","t":2253.9,"rate":0.0445},{"seg":"N6","t":2257.4,"rate":0.1075},{"seg":"N6","t":2260.9,"rate":0.072},{"seg":"N6","t":2264.4,"rate":0.0287},{"seg":"N6","t":2267.9,"rate":0.0209},{"seg":"N6","t":2271.4,"rate":0.0169},{"seg":"N6","t":2274.9,"rate":0.0287},{"seg":"N6","t":2278.4,"rate":0.0366},{"seg":"N6","t":2281.9,"rate":0.0602},{"seg":"N6","t":2285.4,"rate":0.0445},{"seg":"N6","t":2288.8,"rate":0.0917},{"seg":"N6","t":2292.3,"rate":0.0484},{"seg":"N6","t":2295.8,"rate":0.0524},{"seg":"N6","t":2299.3,"rate":0.0327},{"seg":"N6","t":2302.8,"rate":0.0445},{"seg":"N6","t":2306.3,"rate":0.0524},{"seg":"N6","t":2309.8,"rate":0.0563},{"seg":"N6","t":2313.3,"rate":0.0287},{"seg":"N6","t":2316.8,"rate":0.0209},{"seg":"N6","t":2320.3,"rate":0.013},{"seg":"N6","t":2323.8,"rate":0.0366},{"seg":"N6","t":2327.3,"rate":0.0406},{"seg":"N6","t":2330.8,"rate":0.0366},{"seg":"N6","t":2334.2,"rate":0.0445},{"seg":"N6","t":2337.7,"rate":0.0878},{"seg":"N6","t":2341.2,"rate":0.1154},{"seg":"N6","t":2344.7,"rate":0.1508},{"seg":"N6","t":2348.2,"rate":0.2295},{"seg":"N6","t":2351.7,"rate":0.2315},{"seg":"N6","t":2355.2,"rate":0.1193},{"seg":"N6","t":2358.7,"rate":0.0839},{"seg":"N6","t":2362.2,"rate":0.0406},{"seg":"N6","t":2365.7,"rate":0.0524},{"seg":"N6","t":2369.2,"rate":0.0268},
      {"seg":"N7","t":2645,"rate":0.0484},{"seg":"N7","t":2648.5,"rate":0.0445},{"seg":"N7","t":2652,"rate":0.0169},{"seg":"N7","t":2655.5,"rate":0.0445},{"seg":"N7","t":2659,"rate":0.0366},{"seg":"N7","t":2662.5,"rate":0.0327},{"seg":"N7","t":2666,"rate":0.0366},{"seg":"N7","t":2669.5,"rate":0.0327},{"seg":"N7","t":2673,"rate":0.0287},{"seg":"N7","t":2676.5,"rate":0.0327},{"seg":"N7","t":2680,"rate":0.0287},{"seg":"N7","t":2683.4,"rate":0.0287},{"seg":"N7","t":2686.9,"rate":0.013},{"seg":"N7","t":2690.4,"rate":0.0287},{"seg":"N7","t":2693.9,"rate":0.0248},{"seg":"N7","t":2697.4,"rate":0.0287},{"seg":"N7","t":2700.9,"rate":0.0327},{"seg":"N7","t":2704.4,"rate":0.0287},{"seg":"N7","t":2707.9,"rate":0.0366},{"seg":"N7","t":2711.4,"rate":0.0406},{"seg":"N7","t":2714.9,"rate":0.0445},{"seg":"N7","t":2718.4,"rate":0.076},{"seg":"N7","t":2721.9,"rate":0.0524},{"seg":"N7","t":2725.3,"rate":0.0287},{"seg":"N7","t":2728.8,"rate":0.0799},{"seg":"N7","t":2732.3,"rate":0.0287},{"seg":"N7","t":2735.8,"rate":0.0366},{"seg":"N7","t":2739.3,"rate":0.0287},{"seg":"N7","t":2742.8,"rate":0.0287},{"seg":"N7","t":2746.3,"rate":0.0248},{"seg":"N7","t":2749.8,"rate":0.0169},{"seg":"N7","t":2753.3,"rate":0.0366},{"seg":"N7","t":2756.8,"rate":0.0406},{"seg":"N7","t":2760.3,"rate":0.0445},{"seg":"N7","t":2763.8,"rate":0.0366},{"seg":"N7","t":2767.3,"rate":0.0327},{"seg":"N7","t":2770.7,"rate":0.013},{"seg":"N7","t":2774.2,"rate":0.0366},{"seg":"N7","t":2777.7,"rate":0.0445},{"seg":"N7","t":2781.2,"rate":0.0524},{"seg":"N7","t":2784.7,"rate":0.0563},{"seg":"N7","t":2788.2,"rate":0.0169},{"seg":"N7","t":2791.7,"rate":0.0366},{"seg":"N7","t":2795.2,"rate":0.0287},{"seg":"N7","t":2798.7,"rate":0.0602},{"seg":"N7","t":2802.2,"rate":0.0524},{"seg":"N7","t":2805.7,"rate":0.1154},{"seg":"N7","t":2809.2,"rate":0.1114},{"seg":"N7","t":2812.6,"rate":0.1154},{"seg":"N7","t":2816.1,"rate":0.0642},{"seg":"N7","t":2819.6,"rate":0.0524},{"seg":"N7","t":2823.1,"rate":0.0681},{"seg":"N7","t":2826.6,"rate":0.1508},{"seg":"N7","t":2830.1,"rate":0.0917},{"seg":"N7","t":2833.6,"rate":0.0366},{"seg":"N7","t":2837.1,"rate":0.0248},{"seg":"N7","t":2840.6,"rate":0.0287},{"seg":"N7","t":2844.1,"rate":0.0209},{"seg":"N7","t":2847.6,"rate":0.0484},{"seg":"N7","t":2851.1,"rate":0.0366},{"seg":"N7","t":2854.5,"rate":0.0563},{"seg":"N7","t":2858,"rate":0.0366},{"seg":"N7","t":2861.5,"rate":0.0524},{"seg":"N7","t":2865,"rate":0.0366},{"seg":"N7","t":2868.5,"rate":0.0445},{"seg":"N7","t":2872,"rate":0.0169},{"seg":"N7","t":2875.5,"rate":0.0327},{"seg":"N7","t":2879,"rate":0.0445},{"seg":"N7","t":2882.5,"rate":0.0366},{"seg":"N7","t":2886,"rate":0.0996},{"seg":"N7","t":2889.5,"rate":0.0878},{"seg":"N7","t":2893,"rate":0.0799},{"seg":"N7","t":2896.5,"rate":0.0484},{"seg":"N7","t":2899.9,"rate":0.0681},{"seg":"N7","t":2903.4,"rate":0.0642},{"seg":"N7","t":2906.9,"rate":0.0484},{"seg":"N7","t":2910.4,"rate":0.0445},{"seg":"N7","t":2913.9,"rate":0.0465}
    ]
  },
  "vconcat": [
    {
      "width": 1674,
      "height": 159,
      "layer": [
        {
          "data": {"name": "bands"},
          "mark": {"type": "rect", "color": "#e5e5e5"},
          "encoding": {
            "x": {"field": "t0", "type": "quantitative", "scale": {"domain": [0, 3000], "nice": false, "zero": false},
                  "axis": {"orient": "bottom", "values": [0, 500, 1000, 1500, 2000, 2500, 3000], "ticks": false, "labelPadding": 9, "labelExpr": "['0','5×10⁵','10⁶','1.5×10⁶','2×10⁶','2.5×10⁶','3×10⁶'][round(datum.value/500)]", "labelOffset": {"condition": {"test": "datum.value == 3000", "value": -21}, "value": 0}, "title": null, "zindex": 0}},
            "x2": {"field": "t1"}
          }
        },
        {
          "data": {"name": "gamma"},
          "mark": {"type": "rule", "color": "#ff0000", "strokeWidth": 2},
          "encoding": {
            "x": {"field": "t", "type": "quantitative", "axis": null},
            "y": {"field": "lo", "type": "quantitative", "scale": {"domain": [1.78, 2.94], "nice": false, "zero": false},
                  "axis": {"orient": "left", "values": [2, 2.5], "ticks": false, "labelPadding": 7, "labelExpr": "toString(datum.value)", "title": "Photon Index Γ", "titleX": -70, "titleBaseline": "middle", "zindex": 1}},
            "y2": {"field": "hi"}
          }
        },
        {
          "data": {"name": "gamma"},
          "mark": {"type": "point", "filled": true, "fill": "#ff0000", "stroke": "black", "strokeWidth": 1.5, "opacity": 1},
          "encoding": {
            "x": {"field": "t", "type": "quantitative", "axis": null},
            "y": {"field": "g", "type": "quantitative", "axis": null},
            "shape": {"field": "fit", "type": "nominal", "scale": {"domain": ["joint", "pn"], "range": ["circle", "square"]}, "legend": null},
            "size": {"field": "fit", "type": "ordinal", "scale": {"domain": ["joint", "pn"], "range": [250, 320]}, "legend": null}
          }
        },
        {
          "data": {"name": "gamma"},
          "mark": {"type": "point", "opacity": 0},
          "encoding": {
            "x": {"field": "t", "type": "quantitative", "axis": {"orient": "bottom", "values": [0, 500, 1000, 1500, 2000, 2500, 3000], "tickSize": -12, "labels": false, "title": null, "zindex": 1}},
            "y": {"field": "g", "type": "quantitative", "axis": {"orient": "left", "values": [2, 2.5], "tickSize": -12, "labels": false, "title": null, "zindex": 1}}
          }
        },
        {
          "data": {"name": "gamma"},
          "mark": {"type": "point", "opacity": 0},
          "encoding": {
            "x": {"field": "t", "type": "quantitative", "axis": {"orient": "bottom", "values": [250, 750, 1250, 1750, 2250, 2750], "tickSize": -7, "labels": false, "title": null, "zindex": 1}},
            "y": {"field": "g", "type": "quantitative", "axis": {"orient": "left", "values": [1.8, 1.9, 2.1, 2.2, 2.3, 2.4, 2.6, 2.7, 2.8, 2.9], "tickSize": -7, "labels": false, "title": null, "zindex": 1}}
          }
        },
        {
          "data": {"name": "gamma"},
          "mark": {"type": "point", "opacity": 0},
          "encoding": {
            "x": {"field": "t", "type": "quantitative", "axis": {"orient": "top", "values": [0, 500, 1000, 1500, 2000, 2500, 3000], "tickSize": -12, "labels": false, "title": null, "zindex": 1}},
            "y": {"field": "g", "type": "quantitative", "axis": {"orient": "right", "values": [2, 2.5], "tickSize": -12, "labels": false, "title": null, "zindex": 1}}
          }
        },
        {
          "data": {"name": "gamma"},
          "mark": {"type": "point", "opacity": 0},
          "encoding": {
            "x": {"field": "t", "type": "quantitative", "axis": {"orient": "top", "values": [250, 750, 1250, 1750, 2250, 2750], "tickSize": -7, "labels": false, "title": null, "zindex": 1}},
            "y": {"field": "g", "type": "quantitative", "axis": {"orient": "right", "values": [1.8, 1.9, 2.1, 2.2, 2.3, 2.4, 2.6, 2.7, 2.8, 2.9], "tickSize": -7, "labels": false, "title": null, "zindex": 1}}
          }
        }
      ],
      "resolve": {"axis": {"x": "independent", "y": "independent"}}
    },
    {
      "width": 1674,
      "height": 284,
      "layer": [
        {
          "data": {"name": "bands"},
          "mark": {"type": "rect", "color": "#e5e5e5"},
          "encoding": {
            "x": {"field": "t0", "type": "quantitative", "scale": {"domain": [0, 3000], "nice": false, "zero": false},
                  "axis": {"orient": "bottom", "values": [0, 500, 1000, 1500, 2000, 2500, 3000], "ticks": false, "labelPadding": 9, "labelExpr": "['0','5×10⁵','10⁶','1.5×10⁶','2×10⁶','2.5×10⁶','3×10⁶'][round(datum.value/500)]", "labelOffset": {"condition": {"test": "datum.value == 3000", "value": -21}, "value": 0}, "title": null, "zindex": 0}},
            "x2": {"field": "t1"}
          }
        },
        {
          "data": {"name": "pn"},
          "mark": {"type": "line", "color": "#ff0000", "strokeWidth": 3.5, "strokeJoin": "round", "strokeCap": "round"},
          "encoding": {
            "x": {"field": "t", "type": "quantitative", "axis": null},
            "y": {"field": "rate", "type": "quantitative", "scale": {"domain": [0.09, 12.66], "nice": false, "zero": false},
                  "axis": {"orient": "left", "values": [2.5, 5, 7.5, 10, 12.5], "ticks": false, "labelPadding": 7, "labelExpr": "toString(datum.value)", "title": "Count Rate", "titleX": -82, "titleBaseline": "middle", "zindex": 1}},
            "detail": {"field": "seg", "type": "nominal"}
          }
        },
        {
          "data": {"name": "levels"},
          "mark": {"type": "rule", "color": "black", "strokeWidth": 1.5},
          "encoding": {
            "y": {"field": "level", "type": "quantitative", "axis": null}
          }
        },
        {
          "data": {"values": [{"t": 101.6, "rate": 10.83, "label": "EPIC pn"}]},
          "mark": {"type": "text", "align": "left", "baseline": "alphabetic", "fontSize": 30, "fontWeight": "bold", "color": "#ff0000", "font": "Liberation Serif"},
          "encoding": {
            "x": {"field": "t", "type": "quantitative", "axis": null},
            "y": {"field": "rate", "type": "quantitative", "axis": null},
            "text": {"field": "label"}
          }
        },
        {
          "data": {"name": "gamma"},
          "mark": {"type": "point", "opacity": 0},
          "encoding": {
            "x": {"field": "t", "type": "quantitative", "axis": {"orient": "bottom", "values": [0, 500, 1000, 1500, 2000, 2500, 3000], "tickSize": -12, "labels": false, "title": null, "zindex": 1}},
            "y": {"field": "g", "type": "quantitative", "axis": {"orient": "left", "values": [2.5, 5, 7.5, 10, 12.5], "tickSize": -12, "labels": false, "title": null, "zindex": 1}}
          }
        },
        {
          "data": {"name": "gamma"},
          "mark": {"type": "point", "opacity": 0},
          "encoding": {
            "x": {"field": "t", "type": "quantitative", "axis": {"orient": "bottom", "values": [250, 750, 1250, 1750, 2250, 2750], "tickSize": -7, "labels": false, "title": null, "zindex": 1}},
            "y": {"field": "g", "type": "quantitative", "axis": {"orient": "left", "values": [0.5, 1, 1.5, 2, 3, 3.5, 4, 4.5, 5.5, 6, 6.5, 7, 8, 8.5, 9, 9.5, 10.5, 11, 11.5, 12], "tickSize": -7, "labels": false, "title": null, "zindex": 1}}
          }
        },
        {
          "data": {"name": "gamma"},
          "mark": {"type": "point", "opacity": 0},
          "encoding": {
            "x": {"field": "t", "type": "quantitative", "axis": {"orient": "top", "values": [0, 500, 1000, 1500, 2000, 2500, 3000], "tickSize": -12, "labels": false, "title": null, "zindex": 1}},
            "y": {"field": "g", "type": "quantitative", "axis": {"orient": "right", "values": [2.5, 5, 7.5, 10, 12.5], "tickSize": -12, "labels": false, "title": null, "zindex": 1}}
          }
        },
        {
          "data": {"name": "gamma"},
          "mark": {"type": "point", "opacity": 0},
          "encoding": {
            "x": {"field": "t", "type": "quantitative", "axis": {"orient": "top", "values": [250, 750, 1250, 1750, 2250, 2750], "tickSize": -7, "labels": false, "title": null, "zindex": 1}},
            "y": {"field": "g", "type": "quantitative", "axis": {"orient": "right", "values": [0.5, 1, 1.5, 2, 3, 3.5, 4, 4.5, 5.5, 6, 6.5, 7, 8, 8.5, 9, 9.5, 10.5, 11, 11.5, 12], "tickSize": -7, "labels": false, "title": null, "zindex": 1}}
          }
        },
        {
          "data": {"name": "box"},
          "mark": {"type": "rect", "fill": "transparent", "stroke": "#00b050", "strokeWidth": 10, "cornerRadius": 4},
          "encoding": {
            "x": {"field": "t0", "type": "quantitative", "axis": null},
            "x2": {"field": "t1"},
            "y": {"field": "r0", "type": "quantitative", "axis": null},
            "y2": {"field": "r1"}
          }
        }
      ],
      "resolve": {"axis": {"x": "independent", "y": "independent"}}
    },
    {
      "width": 1674,
      "height": 227,
      "layer": [
        {
          "data": {"name": "bands"},
          "mark": {"type": "rect", "color": "#e5e5e5"},
          "encoding": {
            "x": {"field": "t0", "type": "quantitative", "scale": {"domain": [0, 3000], "nice": false, "zero": false},
                  "axis": {"orient": "bottom", "values": [0, 500, 1000, 1500, 2000, 2500, 3000], "ticks": false, "labelPadding": 9, "labelExpr": "['0','5×10⁵','10⁶','1.5×10⁶','2×10⁶','2.5×10⁶','3×10⁶'][round(datum.value/500)]", "labelOffset": {"condition": {"test": "datum.value == 3000", "value": -21}, "value": 0}, "title": "Time Since MJD=57578", "titleFontSize": 29, "titleY": 71, "titleBaseline": "alphabetic", "zindex": 0}},
            "x2": {"field": "t1"}
          }
        },
        {
          "data": {"name": "nu"},
          "mark": {"type": "line", "color": "black", "strokeWidth": 2, "interpolate": "step"},
          "encoding": {
            "x": {"field": "t", "type": "quantitative", "axis": null},
            "y": {"field": "rate", "type": "quantitative", "scale": {"domain": [0, 0.267], "nice": false, "zero": false},
                  "axis": {"orient": "left", "values": [0, 0.1, 0.2], "ticks": false, "labelPadding": 7, "labelExpr": "toString(datum.value)", "title": "Count Rate", "titleX": -66.5, "titleBaseline": "middle", "zindex": 1}},
            "detail": {"field": "seg", "type": "nominal"}
          }
        },
        {
          "data": {"values": [{"t": 104, "rate": 0.208, "label": "NuSTAR FPMA+FPMB"}]},
          "mark": {"type": "text", "align": "left", "baseline": "alphabetic", "fontSize": 29, "fontWeight": "bold", "color": "#111111", "font": "Liberation Serif"},
          "encoding": {
            "x": {"field": "t", "type": "quantitative", "axis": null},
            "y": {"field": "rate", "type": "quantitative", "axis": null},
            "text": {"field": "label"}
          }
        },
        {
          "data": {"name": "nu"},
          "mark": {"type": "point", "opacity": 0},
          "encoding": {
            "x": {"field": "t", "type": "quantitative", "axis": {"orient": "bottom", "values": [0, 500, 1000, 1500, 2000, 2500, 3000], "tickSize": -12, "labels": false, "title": null, "zindex": 1}},
            "y": {"field": "rate", "type": "quantitative", "axis": {"orient": "left", "values": [0, 0.1, 0.2], "tickSize": -12, "labels": false, "title": null, "zindex": 1}}
          }
        },
        {
          "data": {"name": "nu"},
          "mark": {"type": "point", "opacity": 0},
          "encoding": {
            "x": {"field": "t", "type": "quantitative", "axis": {"orient": "bottom", "values": [250, 750, 1250, 1750, 2250, 2750], "tickSize": -7, "labels": false, "title": null, "zindex": 1}},
            "y": {"field": "rate", "type": "quantitative", "axis": {"orient": "left", "values": [0.02, 0.04, 0.06, 0.08, 0.12, 0.14, 0.16, 0.18, 0.22, 0.24, 0.26], "tickSize": -7, "labels": false, "title": null, "zindex": 1}}
          }
        },
        {
          "data": {"name": "nu"},
          "mark": {"type": "point", "opacity": 0},
          "encoding": {
            "x": {"field": "t", "type": "quantitative", "axis": {"orient": "top", "values": [0, 500, 1000, 1500, 2000, 2500, 3000], "tickSize": -12, "labels": false, "title": null, "zindex": 1}},
            "y": {"field": "rate", "type": "quantitative", "axis": {"orient": "right", "values": [0, 0.1, 0.2], "tickSize": -12, "labels": false, "title": null, "zindex": 1}}
          }
        },
        {
          "data": {"name": "nu"},
          "mark": {"type": "point", "opacity": 0},
          "encoding": {
            "x": {"field": "t", "type": "quantitative", "axis": {"orient": "top", "values": [250, 750, 1250, 1750, 2250, 2750], "tickSize": -7, "labels": false, "title": null, "zindex": 1}},
            "y": {"field": "rate", "type": "quantitative", "axis": {"orient": "right", "values": [0.02, 0.04, 0.06, 0.08, 0.12, 0.14, 0.16, 0.18, 0.22, 0.24, 0.26], "tickSize": -7, "labels": false, "title": null, "zindex": 1}}
          }
        }
      ],
      "resolve": {"axis": {"x": "independent", "y": "independent"}}
    }
  ]
}
